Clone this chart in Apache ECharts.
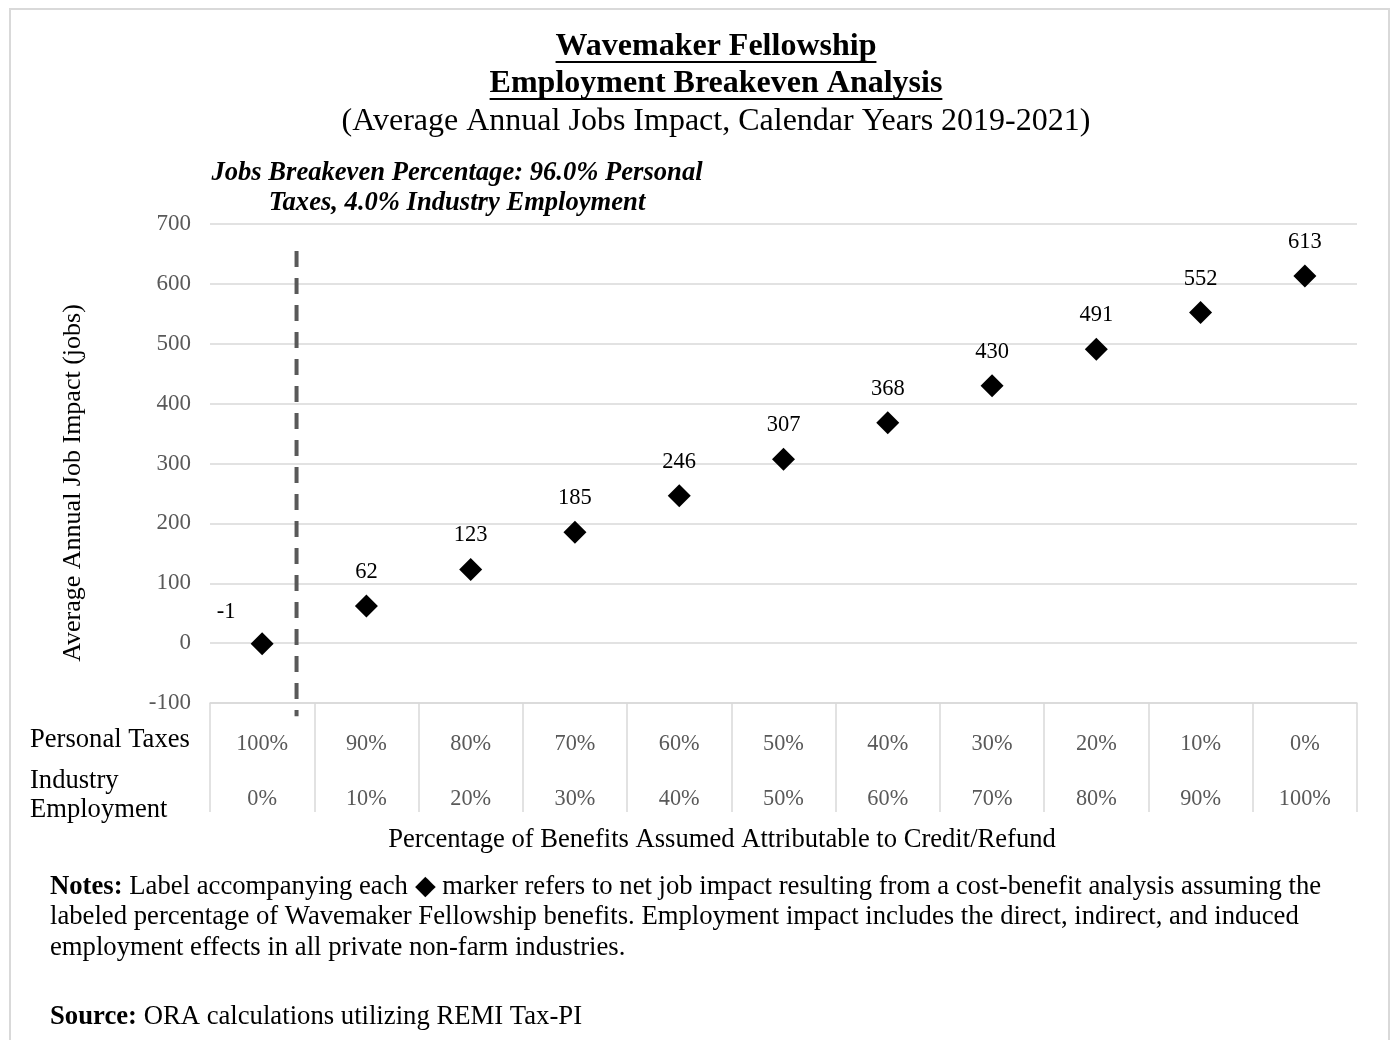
<!DOCTYPE html>
<html>
<head>
<meta charset="utf-8">
<script src="https://cdn.jsdelivr.net/npm/echarts@6/dist/echarts.min.js"></script>
<style>
html, body { margin: 0; padding: 0; background: #fff; }
#main { width: 1394px; height: 1040px; }
</style>
</head>
<body>
<div id="main"></div>
<script>
// 数据
var personalTaxes = ['100%', '90%', '80%', '70%', '60%', '50%', '40%', '30%', '20%', '10%', '0%'];
var industryEmployment = ['0%', '10%', '20%', '30%', '40%', '50%', '60%', '70%', '80%', '90%', '100%'];
var jobImpact = [-1, 62, 123, 185, 246, 307, 368, 430, 491, 552, 613];
var yMin = -100, yMax = 700, yInterval = 100;
// breakeven line, in category index units (0 = first category centre)
var breakevenX = 0.33;
var breakevenSpan = [655, -122];

var FONT = '"Liberation Serif", "Times New Roman", serif';

// text width, for the title underlines
function textWidth(text, font) {
    var ctx = document.createElement('canvas').getContext('2d');
    ctx.font = font;
    return ctx.measureText(text).width;
}

var title1 = 'Wavemaker Fellowship';
var title2 = 'Employment Breakeven Analysis';
var titleFont = 'bold 32px ' + FONT;
var w1 = textWidth(title1, titleFont);
var w2 = textWidth(title2, titleFont);
var titleX = 716;

// the first label sits left of the dashed line
var scatterData = jobImpact.map(function (v, i) {
    if (i == 0) {
        return { value: v, label: { offset: [-36, 2] } };
    }
    return v;
});

var chart = echarts.init(document.getElementById('main'));

var option = {
    backgroundColor: '#fff',
    animation: false,
    grid: {
        left: 210,
        right: 37,
        top: 224,
        bottom: 337
    },
    xAxis: [{
        type: 'category',
        data: personalTaxes.map(function (p, i) { return i; }),
        boundaryGap: true,
        axisLine: { onZero: false, lineStyle: { color: '#d9d9d9', width: 1.5 } },
        axisTick: { show: true, interval: 0, length: 109, lineStyle: { color: '#d9d9d9', width: 1.5 } },
        axisLabel: {
            interval: 0,
            margin: 14,
            formatter: function (value, index) {
                return '{a|' + personalTaxes[index] + '}\n{a|' + industryEmployment[index] + '}';
            },
            rich: {
                a: { fontSize: 22.3, lineHeight: 55, color: '#595959', fontFamily: FONT }
            }
        },
        splitLine: { show: false }
    }, {
        type: 'value',
        min: -0.5,
        max: personalTaxes.length - 0.5,
        show: false
    }],
    yAxis: {
        type: 'value',
        min: yMin,
        max: yMax,
        interval: yInterval,
        axisLine: { show: false },
        axisTick: { show: false },
        axisLabel: { color: '#595959', fontSize: 23, fontFamily: FONT, margin: 19 },
        splitLine: { lineStyle: { color: '#d9d9d9', width: 1.5 } }
    },
    series: [{
        type: 'line',
        xAxisIndex: 1,
        data: [[breakevenX, breakevenSpan[0]], [breakevenX, breakevenSpan[1]]],
        symbol: 'none',
        clip: false,
        silent: true,
        lineStyle: { color: '#595959', width: 4, type: [16, 11] },
        z: 3
    }, {
        type: 'scatter',
        xAxisIndex: 0,
        data: scatterData,
        symbol: 'diamond',
        symbolSize: 23,
        itemStyle: { color: '#000', opacity: 1 },
        label: {
            show: true,
            position: 'top',
            distance: 11,
            color: '#000',
            fontSize: 22.5,
            fontFamily: FONT
        },
        z: 4
    }],
    graphic: [
        // border
        { type: 'rect', shape: { x: 10, y: 9, width: 1379, height: 1060 },
          style: { fill: 'none', stroke: '#d9d9d9', lineWidth: 2 }, silent: true },
        // 标题
        { type: 'text', x: titleX, y: 47, style: { text: title1, font: titleFont, fill: '#000', textAlign: 'center', textVerticalAlign: 'middle' } },
        { type: 'rect', shape: { x: titleX - w1 / 2, y: 61, width: w1, height: 2 }, style: { fill: '#000' } },
        { type: 'text', x: titleX, y: 84, style: { text: title2, font: titleFont, fill: '#000', textAlign: 'center', textVerticalAlign: 'middle' } },
        { type: 'rect', shape: { x: titleX - w2 / 2, y: 98, width: w2, height: 2 }, style: { fill: '#000' } },
        { type: 'text', x: titleX, y: 122, style: { text: '(Average Annual Jobs Impact, Calendar Years 2019-2021)', font: '32px ' + FONT, fill: '#000', textAlign: 'center', textVerticalAlign: 'middle' } },
        // breakeven note
        { type: 'text', x: 457, y: 173, style: { text: 'Jobs Breakeven Percentage: 96.0% Personal', font: 'italic bold 26.6px ' + FONT, fill: '#000', textAlign: 'center', textVerticalAlign: 'middle' } },
        { type: 'text', x: 457, y: 203, style: { text: 'Taxes, 4.0% Industry Employment', font: 'italic bold 26.6px ' + FONT, fill: '#000', textAlign: 'center', textVerticalAlign: 'middle' } },
        // y axis name
        { type: 'text', x: 73, y: 483, rotation: Math.PI / 2, style: { text: 'Average Annual Job Impact (jobs)', font: '26px ' + FONT, fill: '#000', textAlign: 'center', textVerticalAlign: 'middle' } },
        // row labels
        { type: 'text', x: 30, y: 740, style: { text: 'Personal Taxes', font: '26.6px ' + FONT, fill: '#000', textAlign: 'left', textVerticalAlign: 'middle' } },
        { type: 'text', x: 30, y: 781, style: { text: 'Industry', font: '26.6px ' + FONT, fill: '#000', textAlign: 'left', textVerticalAlign: 'middle' } },
        { type: 'text', x: 30, y: 810, style: { text: 'Employment', font: '26.6px ' + FONT, fill: '#000', textAlign: 'left', textVerticalAlign: 'middle' } },
        // x axis title
        { type: 'text', x: 722, y: 840, style: { text: 'Percentage of Benefits Assumed Attributable to Credit/Refund', font: '26.6px ' + FONT, fill: '#000', textAlign: 'center', textVerticalAlign: 'middle' } },
        // notes
        { type: 'text', x: 50, y: 887, style: {
            text: '{b|Notes:} Label accompanying each \u25C6 marker refers to net job impact resulting from a cost-benefit analysis assuming the',
            font: '26.7px ' + FONT, fill: '#000', textAlign: 'left', textVerticalAlign: 'middle',
            rich: { b: { fontWeight: 'bold', fontSize: 26.7, fontFamily: FONT } }
        } },
        { type: 'text', x: 50, y: 917, style: { text: 'labeled percentage of Wavemaker Fellowship benefits. Employment impact includes the direct, indirect, and induced', font: '26.7px ' + FONT, fill: '#000', textAlign: 'left', textVerticalAlign: 'middle' } },
        { type: 'text', x: 50, y: 948, style: { text: 'employment effects in all private non-farm industries.', font: '26.7px ' + FONT, fill: '#000', textAlign: 'left', textVerticalAlign: 'middle' } },
        { type: 'text', x: 50, y: 1017, style: {
            text: '{b|Source:} ORA calculations utilizing REMI Tax-PI',
            font: '26.7px ' + FONT, fill: '#000', textAlign: 'left', textVerticalAlign: 'middle',
            rich: { b: { fontWeight: 'bold', fontSize: 26.7, fontFamily: FONT } }
        } }
    ]
};

chart.setOption(option);
</script>
</body>
</html>
